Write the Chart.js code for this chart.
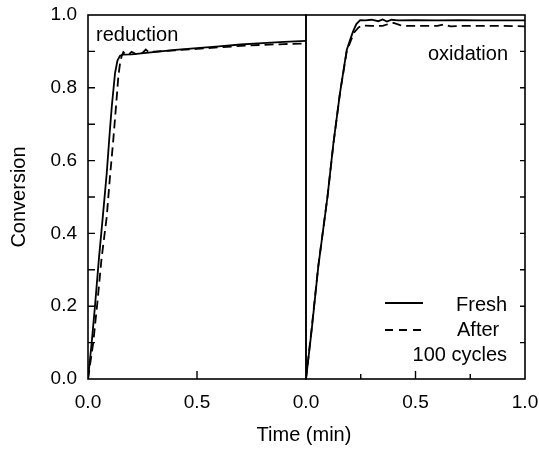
<!DOCTYPE html>
<html>
<head>
<meta charset="utf-8">
<script src="https://cdn.jsdelivr.net/npm/chart.js@4"></script>
<style>
  html, body { margin: 0; padding: 0; background: #fff; }
  #wrap { position: relative; width: 539px; height: 449px; }
  #wrap canvas { position: absolute; left: 0; top: 0; }
</style>
</head>
<body>
<div id="wrap">
  <canvas id="reduction" width="539" height="449"></canvas>
  <canvas id="oxidation" width="539" height="449"></canvas>
</div>
<script>
// reduction panel
const redFreshTime = [0, 0.017, 0.032, 0.05, 0.067, 0.086, 0.10, 0.109, 0.124, 0.135, 0.147, 0.16, 0.2, 0.3, 0.4, 0.5, 0.6, 0.7, 0.8, 0.9, 1.0];
const redFreshConv = [0, 0.10, 0.20, 0.33, 0.44, 0.566, 0.68, 0.748, 0.84, 0.875, 0.888, 0.891, 0.892, 0.898, 0.904, 0.909, 0.914, 0.919, 0.923, 0.926, 0.929];
const redAfterTime = [0, 0.024, 0.043, 0.062, 0.086, 0.10, 0.116, 0.13, 0.139, 0.148, 0.155, 0.162, 0.175, 0.19, 0.2, 0.22, 0.25, 0.265, 0.28, 0.3, 0.4, 0.5, 0.6, 0.7, 0.8, 0.9, 1.0];
const redAfterConv = [0, 0.10, 0.21, 0.33, 0.446, 0.55, 0.657, 0.76, 0.83, 0.872, 0.888, 0.898, 0.890, 0.893, 0.899, 0.893, 0.896, 0.905, 0.897, 0.899, 0.903, 0.907, 0.911, 0.915, 0.918, 0.920, 0.922];

// oxidation panel
const oxFreshTime = [0, 0.026, 0.056, 0.098, 0.125, 0.155, 0.186, 0.201, 0.215, 0.23, 0.247, 0.27, 0.3, 0.33, 0.35, 0.37, 0.39, 0.42, 0.5, 0.6, 0.7, 0.8, 0.9, 1.0];
const oxFreshConv = [0, 0.135, 0.308, 0.50, 0.647, 0.785, 0.904, 0.931, 0.955, 0.975, 0.986, 0.985, 0.987, 0.983, 0.988, 0.982, 0.987, 0.985, 0.986, 0.985, 0.986, 0.985, 0.985, 0.985];
const oxAfterTime = [0, 0.026, 0.056, 0.098, 0.125, 0.155, 0.186, 0.205, 0.22, 0.24, 0.26, 0.3, 0.35, 0.38, 0.4, 0.43, 0.46, 0.5, 0.6, 0.63, 0.66, 0.7, 0.8, 0.9, 1.0];
const oxAfterConv = [0, 0.14, 0.31, 0.50, 0.645, 0.785, 0.90, 0.93, 0.952, 0.966, 0.971, 0.970, 0.970, 0.976, 0.978, 0.972, 0.970, 0.970, 0.970, 0.974, 0.969, 0.970, 0.970, 0.970, 0.969];

const xTickValues = [0, 0.5, 1.0];
const yTickValues = [0, 0.2, 0.4, 0.6, 0.8, 1.0];

const FONT = "'Liberation Sans', Arial, Helvetica, sans-serif";
Chart.defaults.font.family = FONT;
Chart.defaults.color = "#000";

function pts(t, c) {
  return t.map((v, i) => ({ x: v, y: c[i] }));
}

function lineSet(label, t, c, dashed) {
  return {
    label: label,
    data: pts(t, c),
    borderColor: "#000",
    borderWidth: 1.8,
    borderDash: dashed ? [9, 5] : [],
    pointRadius: 0,
    tension: 0,
    fill: false,
  };
}

// frame, inward ticks and in-plot texts
const panelDecor = {
  id: "panelDecor",
  afterDatasetsDraw(chart, args, opts) {
    const { ctx, chartArea: a, scales } = chart;
    ctx.save();
    ctx.strokeStyle = "#000";
    ctx.lineWidth = 1.6;
    ctx.strokeRect(a.left, a.top, a.right - a.left, a.bottom - a.top);

    ctx.lineWidth = 1.4;
    ctx.beginPath();
    (opts.yTicks || []).forEach(([v, len]) => {
      const y = scales.y.getPixelForValue(v);
      if (opts.ySide === "left") {
        ctx.moveTo(a.left, y);
        ctx.lineTo(a.left + len, y);
      } else {
        ctx.moveTo(a.right, y);
        ctx.lineTo(a.right - len, y);
      }
    });
    (opts.xTicks || []).forEach(([v, len]) => {
      const x = scales.x.getPixelForValue(v);
      ctx.moveTo(x, a.bottom);
      ctx.lineTo(x, a.bottom - len);
    });
    ctx.stroke();

    ctx.lineWidth = 1.8;
    (opts.samples || []).forEach((s) => {
      ctx.setLineDash(s.dash);
      ctx.beginPath();
      ctx.moveTo(s.x1, s.y);
      ctx.lineTo(s.x2, s.y);
      ctx.stroke();
    });
    ctx.setLineDash([]);

    ctx.fillStyle = "#000";
    ctx.font = "20px " + FONT;
    ctx.textBaseline = "alphabetic";
    (opts.texts || []).forEach((t) => {
      ctx.textAlign = t.align;
      ctx.fillText(t.text, t.x, t.y);
    });
    ctx.restore();
  },
};

const minorY = [0.1, 0.2, 0.3, 0.4, 0.5, 0.6, 0.7, 0.8, 0.9];

// keep the plot area where layout.padding puts it
function noEdgePadding(s) {
  s.paddingLeft = 0;
  s.paddingRight = 0;
  s.paddingTop = 0;
  s.paddingBottom = 0;
}

function xScale(hideLast) {
  return {
    type: "linear",
    min: 0,
    max: 1,
    afterBuildTicks: (s) => { s.ticks = xTickValues.map((v) => ({ value: v })); },
    grid: { display: false, drawTicks: false },
    border: { display: false },
    ticks: {
      autoSkip: false,
      maxRotation: 0,
      padding: 12,
      font: { size: 19 },
      callback: (v) => (hideLast && v === 1 ? "" : Number(v).toFixed(1)),
    },
    afterFit: (s) => { s.height = 70; noEdgePadding(s); },
  };
}

new Chart(document.getElementById("reduction"), {
  type: "line",
  data: {
    datasets: [
      lineSet("Fresh", redFreshTime, redFreshConv, false),
      lineSet("After 100 cycles", redAfterTime, redAfterConv, true),
    ],
  },
  options: {
    responsive: false,
    animation: false,
    layout: { padding: { left: 0, top: 15, right: 233, bottom: 0 } },
    scales: {
      x: xScale(true),
      y: {
        type: "linear",
        min: 0,
        max: 1,
        afterBuildTicks: (s) => { s.ticks = yTickValues.map((v) => ({ value: v })); },
        grid: { display: false, drawTicks: false },
        border: { display: false },
        ticks: {
          padding: 11,
          font: { size: 19 },
          callback: (v) => Number(v).toFixed(1),
        },
        title: {
          display: true,
          text: "Conversion",
          font: { size: 20 },
          padding: { top: 7, bottom: 0 },
        },
        afterFit: (s) => { s.width = 88; noEdgePadding(s); },
      },
    },
    plugins: {
      legend: { display: false },
      tooltip: { enabled: false },
      panelDecor: {
        ySide: "left",
        yTicks: minorY.map((v) => [v, 7]),
        xTicks: [[0.5, 8]],
        texts: [
          { text: "reduction", x: 96, y: 41, align: "left" },
          { text: "Time (min)", x: 304, y: 441, align: "center" },
        ],
      },
    },
  },
  plugins: [panelDecor],
});

new Chart(document.getElementById("oxidation"), {
  type: "line",
  data: {
    datasets: [
      lineSet("Fresh", oxFreshTime, oxFreshConv, false),
      lineSet("After 100 cycles", oxAfterTime, oxAfterConv, true),
    ],
  },
  options: {
    responsive: false,
    animation: false,
    layout: { padding: { left: 306, top: 15, right: 14, bottom: 0 } },
    scales: {
      x: xScale(false),
      y: { type: "linear", min: 0, max: 1, display: false },
    },
    plugins: {
      legend: { display: false },
      tooltip: { enabled: false },
      panelDecor: {
        ySide: "right",
        yTicks: minorY.map((v) => [v, 5]),
        xTicks: [[0.25, 5], [0.5, 8], [0.75, 5]],
        samples: [
          { x1: 385, x2: 423, y: 303, dash: [] },
          { x1: 385, x2: 423, y: 330, dash: [8, 6] },
        ],
        texts: [
          { text: "oxidation", x: 508, y: 60, align: "right" },
          { text: "Fresh", x: 456, y: 311, align: "left" },
          { text: "After", x: 457, y: 336, align: "left" },
          { text: "100 cycles", x: 507, y: 361, align: "right" },
        ],
      },
    },
  },
  plugins: [panelDecor],
});
</script>
</body>
</html>
